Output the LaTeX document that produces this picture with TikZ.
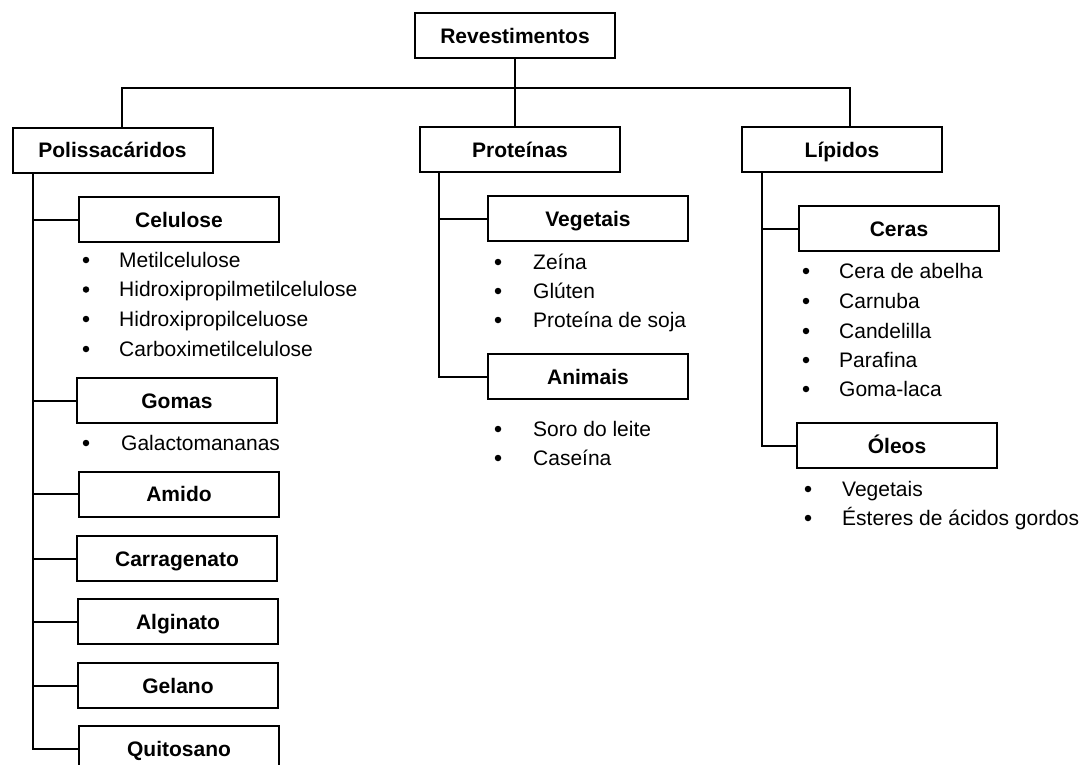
\documentclass[tikz,border=0pt]{standalone}
\usepackage{fontspec}
\setmainfont{Liberation Sans}
\tikzset{
  box/.style={draw, line width=2pt, minimum width=200pt, minimum height=45pt, inner sep=0pt,
    text height=15pt, text depth=0pt, font=\fontsize{21}{25}\selectfont\bfseries},
  conn/.style={line width=2pt},
  itemtxt/.style={anchor=base west, inner sep=0pt, font=\fontsize{21}{25}\selectfont},
  bul/.style={circle, fill, inner sep=0pt, minimum size=6.5pt},
}
\newcommand\li[5]{\node[bul] (#1b) at (#2,#4) {}; \node[itemtxt] (#1) at (#3,#4+7) {#5};}
\begin{document}
\begin{tikzpicture}[x=1pt,y=-1pt]
\useasboundingbox (0,0) rectangle (1087,764);
% level 0/1
\node[box] (rev) at (515,35.5) {Revestimentos};
\node[box] (pol) at (112.5,150) {Polissacáridos};
\node[box] (pro) at (520,149.5) {Proteínas};
\node[box] (lip) at (842,149.5) {Lípidos};
\coordinate (bar) at (515,88);
\draw[conn] (rev.south) -- (rev.south |- pro.north);
\draw[conn] ([xshift=9pt]pol.north) |- (bar) -| ([xshift=8pt]lip.north);
% polissacaridos
\node[box] (cel) at (179,219.5) {Celulose};
\node[box] (gom) at (177,400.5) {Gomas};
\node[box] (ami) at (179,494) {Amido};
\node[box] (car) at (177,558.5) {Carragenato};
\node[box] (alg) at (178,621.5) {Alginato};
\node[box] (gel) at (178,685.5) {Gelano};
\node[box] (qui) at (179,748.5) {Quitosano};
\coordinate (pt) at ([xshift=21pt]pol.south west);
\draw[conn] (pt) |- (qui.west);
\foreach \n in {cel,gom,ami,car,alg,gel} \draw[conn] (\n.west) -- (\n.west -| pt);
\li{c1}{86}{119}{260}{Metilcelulose}
\li{c2}{86}{119}{289.5}{Hidroxipropilmetilcelulose}
\li{c3}{86}{119}{319}{Hidroxipropilceluose}
\li{c4}{86}{119}{349}{Carboximetilcelulose}
\li{g1}{86}{121}{443}{Galactomananas}
% proteinas
\node[box] (veg) at (588,218.5) {Vegetais};
\node[box] (ani) at (588,376.5) {Animais};
\coordinate (prt) at ([xshift=20pt]pro.south west);
\draw[conn] (prt) |- (ani.west);
\draw[conn] (veg.west) -- (veg.west -| prt);
\li{v1}{498}{533}{262}{Zeína}
\li{v2}{498}{533}{291}{Glúten}
\li{v3}{498}{533}{320}{Proteína de soja}
\li{a1}{498}{533}{429}{Soro do leite}
\li{a2}{498}{533}{458}{Caseína}
% lipidos
\node[box] (cer) at (899,228.5) {Ceras};
\node[box] (ole) at (897,445.5) {Óleos};
\coordinate (lpt) at ([xshift=21pt]lip.south west);
\draw[conn] (lpt) |- (ole.west);
\draw[conn] (cer.west) -- (cer.west -| lpt);
\li{e1}{806}{839}{271}{Cera de abelha}
\li{e2}{806}{839}{301}{Carnuba}
\li{e3}{806}{839}{331}{Candelilla}
\li{e4}{806}{839}{360}{Parafina}
\li{e5}{806}{839}{389}{Goma-laca}
\li{o1}{808}{842}{489}{Vegetais}
\li{o2}{808}{842}{518}{Ésteres de ácidos gordos}
\end{tikzpicture}
\end{document}
